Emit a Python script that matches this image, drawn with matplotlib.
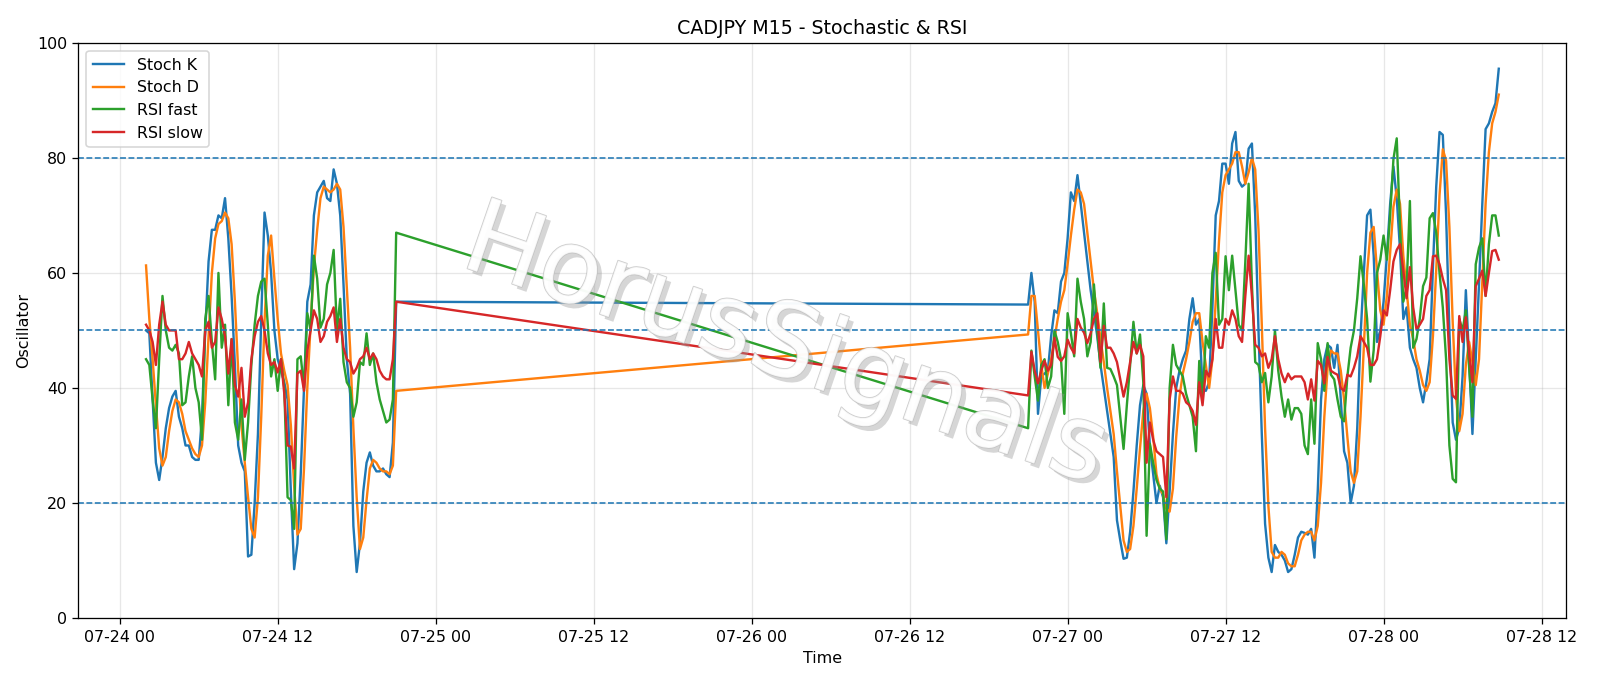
import numpy as np
import pandas as pd
import matplotlib
matplotlib.use("Agg")
import matplotlib.pyplot as plt
import matplotlib.dates as mdates
import matplotlib.patheffects as pe

# session 1: 07-24 02:00 .. 21:00, session 2: 07-26 21:00 .. 07-28 08:45 (M15 bars)
start1 = "2020-07-24 02:00"
start2 = "2020-07-26 21:00"

k1 = [50, 49.5, 38, 27, 24, 28, 33, 36.5, 38.5, 39.5,
      35, 33, 30, 30, 28, 27.5, 27.5, 35, 50, 62,
      67.5, 67.5, 70, 69.5, 73, 66, 56, 44, 30, 27,
      25.5, 10.7, 11, 20, 32, 52, 70.5, 66.5, 60, 50,
      45, 43, 41, 38, 22, 8.5, 13, 25, 40, 55,
      58, 70, 74, 75, 76, 73, 72.5, 78, 75.5, 70,
      58, 45, 39, 16, 8, 13, 22, 27, 28.8, 26.5,
      25.5, 25.5, 26, 25, 24.5, 30.5, 55]
d1 = [61.3, 52, 45, 37, 29.5, 26.5, 28, 32.5, 36, 38,
      37.5, 35.5, 32.5, 31, 29.5, 28.5, 28, 30, 37.5, 49,
      60, 66, 68.5, 69, 70.5, 69.5, 65, 55, 43, 33.5,
      27, 21, 15.5, 14, 21, 35, 51.5, 63, 66.5, 59,
      52, 46, 43, 40.5, 33.5, 23, 14.5, 15.5, 26, 40,
      51, 61, 67.5, 73, 75, 74.5, 74, 74.5, 75.5, 74.5,
      68, 57.5, 47, 33, 21, 12, 14, 20.5, 26, 27.5,
      27, 26, 25.5, 25.5, 25, 26.5, 39.5]
f1 = [45, 44, 38, 33, 45, 56, 50, 47, 46.5, 47.5,
      46, 37, 37.5, 42, 45.5, 40, 37.5, 31, 52, 56,
      48, 41.5, 60, 47, 51, 37, 48.5, 34, 31, 38,
      27.5, 34, 44, 51, 56, 58.5, 59, 51, 42, 45,
      39.5, 45, 40, 21, 20.5, 15.5, 45, 45.5, 40, 53,
      50, 63, 59, 50.5, 52, 58, 60, 64, 50, 55.5,
      44.5, 41, 40, 35, 37.5, 44.5, 44, 49.5, 44, 46,
      41, 38, 36, 34, 34.5, 38, 67]
s1 = [51, 50, 48, 44, 51, 55, 51, 50, 50, 50,
      45, 45, 46, 48, 46, 45, 44, 42, 50, 51.5,
      47, 48, 54, 52, 49, 42.5, 48.5, 40.5, 38.5, 43.5,
      35, 37.5, 45, 49, 51.5, 52.5, 50, 46, 44, 44.5,
      42.7, 45, 39, 30, 29.8, 26, 42.5, 43, 39.5, 46.5,
      50, 53.5, 52, 48, 49, 51.5, 52.5, 54, 48, 52,
      47, 45, 44.5, 42.5, 43.5, 45, 45.5, 47, 45, 46,
      45, 43, 42, 41.5, 41.5, 45, 55]

k2 = [54.5, 60, 55, 35.5, 42, 42.5, 43, 49, 53.5, 53,
      58.5, 60, 66, 74, 72.5, 77, 72, 67, 62, 57,
      53, 49, 44, 40, 36, 32, 28, 17, 13.5, 10.3,
      10.5, 15, 22, 30, 37, 40.5, 39, 30, 25, 20,
      23, 21, 13, 22, 32, 40, 43, 45, 46.5, 52,
      55.6, 51, 52, 40, 39.5, 41, 54, 70, 72.5, 79,
      79, 75.5, 82.5, 84.5, 76, 75, 75.5, 81.6, 82.5, 70,
      50, 32, 16.4, 10.5, 8, 12.7, 11.5, 11, 10, 8,
      8.5, 11, 14, 15, 14.8, 14.5, 15.5, 10.5, 22, 38,
      45, 47.5, 47, 43.5, 47.5, 38, 29, 27, 20, 23,
      33, 49, 60, 70, 71, 63, 48, 50, 55, 63,
      72, 78.5, 73, 64, 52, 54, 47, 45, 43.5, 40,
      37.5, 41, 45, 61, 75, 84.5, 84, 70, 50, 34,
      31, 33, 42, 57, 45, 32, 45, 58, 72, 85,
      86, 88, 89.5, 95.5]
d2 = [49.3, 56, 56, 50, 44, 40, 42.5, 45, 48.5, 52,
      55, 57, 61.5, 66.5, 71, 74.5, 74, 72, 67, 62,
      57, 53, 48.5, 44.5, 40, 36, 32, 25.5, 19.5, 13.5,
      11.5, 12, 16, 22.5, 29.5, 36, 39, 36.5, 31.5, 25,
      22.5, 21.5, 19, 18.5, 22.5, 31.5, 38.5, 42.5, 45, 48,
      51.5, 53, 53, 48, 44, 40, 45, 55, 65.5, 74,
      77, 78, 79, 81, 81, 78.5, 75.5, 77.5, 80, 78,
      67.5, 51, 33, 19.5, 11.5, 10.5, 10.5, 11.5, 11, 9.5,
      9, 9, 11, 13.5, 14.5, 15, 15, 13.5, 16, 23.5,
      35, 43.5, 46.5, 46, 46, 43, 38, 31.5, 25.5, 23.5,
      25.5, 35, 47, 60, 67, 68, 60.5, 53.5, 51, 56,
      63.5, 71.5, 74.5, 72, 63, 57, 51, 48.5, 45, 43,
      40.5, 39.5, 41, 49, 60.5, 73.5, 81.5, 79.5, 68, 51.5,
      38.5, 32.5, 35.5, 44, 48, 44.5, 40.5, 45, 58.5, 72,
      81, 86, 88, 91]
f2 = [33, 46.5, 42, 37.8, 44, 45, 40, 42, 50, 48,
      45, 35.5, 53, 49.5, 45.5, 59, 55, 52, 45.5, 48,
      58, 50, 43.5, 54.7, 43.5, 43.3, 42, 40.5, 35, 29.4,
      37, 44, 51.5, 46, 49.3, 41, 14.3, 30.3, 27, 24,
      22.5, 22, 13.7, 40, 47.5, 44, 43, 42, 39, 37,
      35, 29, 44.7, 38, 49, 47, 60, 63.5, 51, 52,
      62.9, 57, 63, 57, 51, 50, 62, 75.5, 58, 44.5,
      44, 41, 42.6, 37.5, 42, 50, 43, 38.5, 35, 38,
      34.5, 36.5, 36.5, 35.5, 30, 28.5, 38, 30.3, 47.8, 45,
      39.5, 47.8, 42.3, 41.5, 38, 35, 34.2, 42, 47, 50,
      55.6, 62.9, 58, 52, 41.1, 46.6, 60, 62.3, 66.5, 62.3,
      70, 79.8, 83.4, 68, 55, 57.5, 72.5, 47, 48.5, 52,
      57.7, 59.2, 69.5, 70.4, 67, 60, 54, 45, 30, 24.2,
      23.6, 52, 50, 53.5, 43.5, 35, 61.5, 64.4, 66, 56,
      65, 70, 70, 66.5]
s2 = [38.7, 46.3, 43, 40.8, 43, 44.7, 43, 44, 48.7, 45.4,
      44.7, 45.5, 48.4, 47, 46, 52, 50.5, 49.6, 47.8, 49.5,
      52, 53, 44.5, 50.8, 47, 47, 46, 44.5, 41.5, 38.5,
      41, 44.5, 48, 46, 47.5, 45.5, 27, 34, 31, 29,
      28.5, 28, 21, 38, 42, 39.5, 39.5, 39, 37.5, 37,
      36, 33.6, 41, 37, 43, 42, 45, 52, 47, 47,
      52, 51, 53.5, 52, 49, 48, 56, 63, 56, 47.5,
      47, 45.5, 46, 43.5, 45, 49, 45, 42.5, 41, 42.5,
      41.5, 42, 42, 42, 41, 38, 41.5, 37.8, 44.7, 44,
      40.8, 45.4, 43, 42.6, 42.3, 40, 39.5, 42.3, 42, 43.5,
      45.5, 49, 48, 47, 44, 44, 45, 49, 53.5, 52.6,
      57, 62, 64, 65, 60.4, 55.6, 61, 54, 50.2, 51,
      52, 56, 57, 62.9, 63, 61.5, 59, 57, 45, 38.7,
      38.1, 52.5, 48, 52.3, 46, 41, 57.7, 59, 60.4, 56,
      60, 63.8, 64, 62.3]

t = pd.date_range(start1, periods=len(k1), freq="15min").append(
    pd.date_range(start2, periods=len(k2), freq="15min"))
stoch_k = k1 + k2
stoch_d = d1 + d2
rsi_fast = f1 + f2
rsi_slow = s1 + s2

dpi = 1600 / 14
fig, ax = plt.subplots(figsize=(14, 686.4 / dpi), dpi=dpi)
fig.subplots_adjust(left=0.049, right=0.979, top=0.937, bottom=0.099)

ax.plot(t, stoch_k, label="Stoch K")
ax.plot(t, stoch_d, label="Stoch D")
ax.plot(t, rsi_fast, label="RSI fast")
ax.plot(t, rsi_slow, label="RSI slow")

for lvl in [80, 50, 20]:
    ax.axhline(lvl, linestyle="--", linewidth=1, color="#1f77b4")

ax.set_ylim(0, 100)
ax.xaxis.set_major_locator(mdates.HourLocator(byhour=[0, 12]))
ax.xaxis.set_major_formatter(mdates.DateFormatter("%m-%d %H"))
ax.grid(True, alpha=0.3)
ax.set_title("CADJPY M15 - Stochastic & RSI")
ax.set_xlabel("Time")
ax.set_ylabel("Oscillator")
ax.legend(loc="upper left")

# watermark
ax.text(0.475, 0.47, "HorusSignals", transform=ax.transAxes, fontsize=65,
        rotation=-19, ha="center", va="center", color="white", alpha=0.8,
        zorder=5,
        path_effects=[pe.SimplePatchShadow(offset=(3, -3), shadow_rgbFace="0.6", alpha=0.4),
                      pe.Stroke(linewidth=1.0, foreground="0.75"),
                      pe.Normal()])

plt.savefig("out.png")
